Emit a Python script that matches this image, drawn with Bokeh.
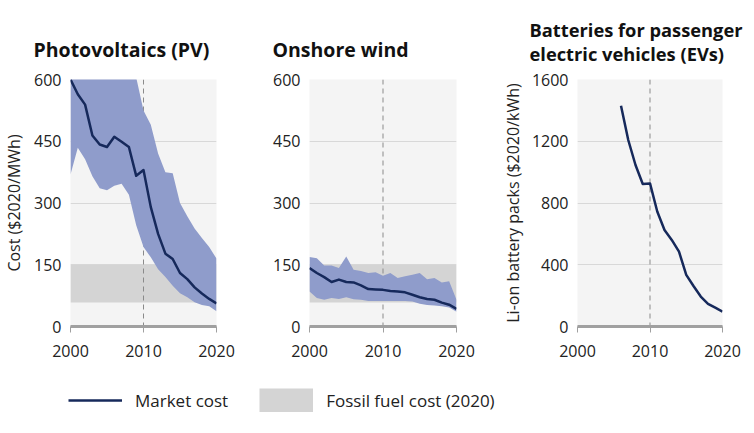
from bokeh.plotting import figure
from bokeh.models import Range1d, FixedTicker, Span, BoxAnnotation, Title, Legend, LegendItem
from bokeh.layouts import row, column
from bokeh.embed import file_html
from bokeh.resources import INLINE

# ---------------- data ----------------
years = list(range(2000, 2021))
pv_cost = [600, 564, 539, 464, 442, 436, 461, 449, 436, 366, 380, 290, 225, 177, 164, 130, 115, 95, 80, 67, 56]
pv_high = [760, 755, 745, 735, 725, 715, 705, 690, 665, 605, 525, 490, 420, 375, 372, 300, 268, 238, 215, 193, 165]
pv_low = [369, 434, 406, 365, 336, 331, 342, 347, 320, 246, 193, 168, 139, 120, 99, 81, 71, 59, 52, 49, 37]

wind_cost = [142, 130, 120, 108, 114, 108, 107, 100, 91, 90, 89, 86, 85, 83, 77, 71, 67, 65, 58, 53, 43]
wind_high = [169, 166, 148, 148, 142, 170, 138, 135, 130, 132, 123, 130, 118, 122, 126, 130, 115, 118, 107, 110, 65]
wind_low = [85, 69, 65, 69, 67, 71, 66, 65, 62, 62, 62, 62, 62, 62, 61, 55, 52, 51, 49, 46, 36]

bat_years = list(range(2006, 2021))
bat_cost = [1430, 1208, 1046, 923, 927, 745, 625, 561, 485, 334, 262, 194, 147, 122, 97]

fossil_low = 58
fossil_high = 150

x_ticks = [2000, 2010, 2020]
ref_year = 2010
power_ticks = [0, 150, 300, 450, 600]
bat_ticks = [0, 400, 800, 1200, 1600]

titles = ["Photovoltaics (PV)", "Onshore wind", "Batteries for passenger\nelectric vehicles (EVs)"]
ylabels = ["Cost ($2020/MWh)", "Li-on battery packs ($2020/kWh)"]
legend_labels = ["Market cost", "Fossil fuel cost (2020)"]

# ---------------- style ----------------
FONT = "Open Sans"
NAVY = "#16295b"
BAND = "#8f9ccb"
FOSSIL = "#d4d4d4"
BG = "#f4f4f4"
GRID = "#d8d8d8"
AXIS = "#a0a0a0"
TXT = "#222222"
NAN = float("nan")
TOP = 76
FRAME_H = 247
BOTTOM = 44


def make_panel(ymax, yticks, left, right, frame_w, ylabel=None, lab_standoff=6):
    p = figure(frame_width=frame_w, frame_height=FRAME_H,
               min_border_left=left, min_border_right=right,
               min_border_top=TOP, min_border_bottom=BOTTOM,
               x_range=Range1d(2000, 2020), y_range=Range1d(0, ymax),
               output_backend="svg", toolbar_location=None)
    p.background_fill_color = BG
    p.border_fill_color = "white"
    p.outline_line_color = None
    p.xgrid.visible = False
    p.ygrid.ticker = FixedTicker(ticks=yticks)
    p.ygrid.grid_line_color = GRID
    p.ygrid.grid_line_width = 1

    xa = p.xaxis[0]
    xa.ticker = FixedTicker(ticks=x_ticks)
    xa.axis_line_color = AXIS
    xa.axis_line_width = 3
    xa.major_tick_line_color = AXIS
    xa.major_tick_out = 6
    xa.major_tick_in = 0
    xa.minor_tick_line_color = None
    xa.major_label_standoff = 12
    xa.major_label_text_font = FONT
    xa.major_label_text_font_size = "16px"
    xa.major_label_text_color = TXT

    ya = p.yaxis[0]
    ya.ticker = FixedTicker(ticks=yticks)
    ya.axis_line_color = None
    ya.major_tick_line_color = None
    ya.minor_tick_line_color = None
    ya.major_tick_out = 0
    ya.major_tick_in = 0
    ya.major_label_standoff = 9
    ya.major_label_text_font = FONT
    ya.major_label_text_font_size = "16px"
    ya.major_label_text_color = TXT
    if ylabel:
        ya.axis_label = ylabel
        ya.axis_label_text_font = FONT
        ya.axis_label_text_font_size = "16px"
        ya.axis_label_text_font_style = "normal"
        ya.axis_label_text_color = TXT
        ya.axis_label_standoff = lab_standoff
    return p


def add_common(p, with_fossil=True):
    if with_fossil:
        p.add_layout(BoxAnnotation(bottom=fossil_low, top=fossil_high, fill_color=FOSSIL,
                                   fill_alpha=1, line_color=None, level="underlay"))
    p.add_layout(Span(location=ref_year, dimension="height", line_color="#8a8a8a",
                      line_dash="5 4", line_width=1, level="underlay"))


def add_title(p, text, offset, standoff, size="19.5px"):
    p.add_layout(Title(text=text, align="left", offset=offset, standoff=standoff,
                       text_font=FONT, text_font_size=size, text_font_style="bold",
                       text_color="#111111", text_line_height=0.96), "above")


# Panel 1: PV
p1 = make_panel(600, power_ticks, 64, 32, 146, ylabels[0], 6)
add_common(p1)
p1.varea(x=years, y1=pv_low, y2=pv_high, fill_color=BAND, fill_alpha=1)
p1.line(years, pv_cost, line_color=NAVY, line_width=2.5, line_join="round")
add_title(p1, titles[0], -37, 33)

# Panel 2: onshore wind
p2 = make_panel(600, power_ticks, 61, 42, 147)
add_common(p2)
p2.varea(x=years, y1=wind_low, y2=wind_high, fill_color=BAND, fill_alpha=1)
p2.line(years, wind_cost, line_color=NAVY, line_width=2.5, line_join="round")
add_title(p2, titles[1], -37, 33)

# Panel 3: batteries
p3 = make_panel(1600, bat_ticks, 76, 25, 145, ylabels[1], 5)
add_common(p3, with_fossil=False)
p3.line(bat_years, bat_cost, line_color=NAVY, line_width=2.5, line_join="round")
add_title(p3, titles[2], -48, 28, "18.3px")

# Legend strip
pl = figure(width=738, height=50, min_border=0, x_range=Range1d(0, 1), y_range=Range1d(0, 1),
            x_axis_type=None, y_axis_type=None, output_backend="svg", toolbar_location=None)
pl.outline_line_color = None
pl.xgrid.visible = False
pl.ygrid.visible = False
r_line = pl.line(x=[NAN], y=[NAN], line_color=NAVY, line_width=2.5)
r_box = pl.line(x=[NAN], y=[NAN], line_color=FOSSIL, line_width=24, line_cap="butt")
leg = Legend(items=[LegendItem(label=legend_labels[0], renderers=[r_line]),
                    LegendItem(label=legend_labels[1], renderers=[r_box])],
             location=(68, 8), orientation="horizontal", glyph_width=54, glyph_height=24,
             label_standoff=13, spacing=31, padding=0, margin=0,
             border_line_color=None, background_fill_alpha=0,
             label_text_font=FONT, label_text_font_size="17px", label_text_color=TXT)
pl.add_layout(leg)

layout = column(row(p1, p2, p3), pl)
open("out.html", "w").write(file_html(layout, INLINE))
